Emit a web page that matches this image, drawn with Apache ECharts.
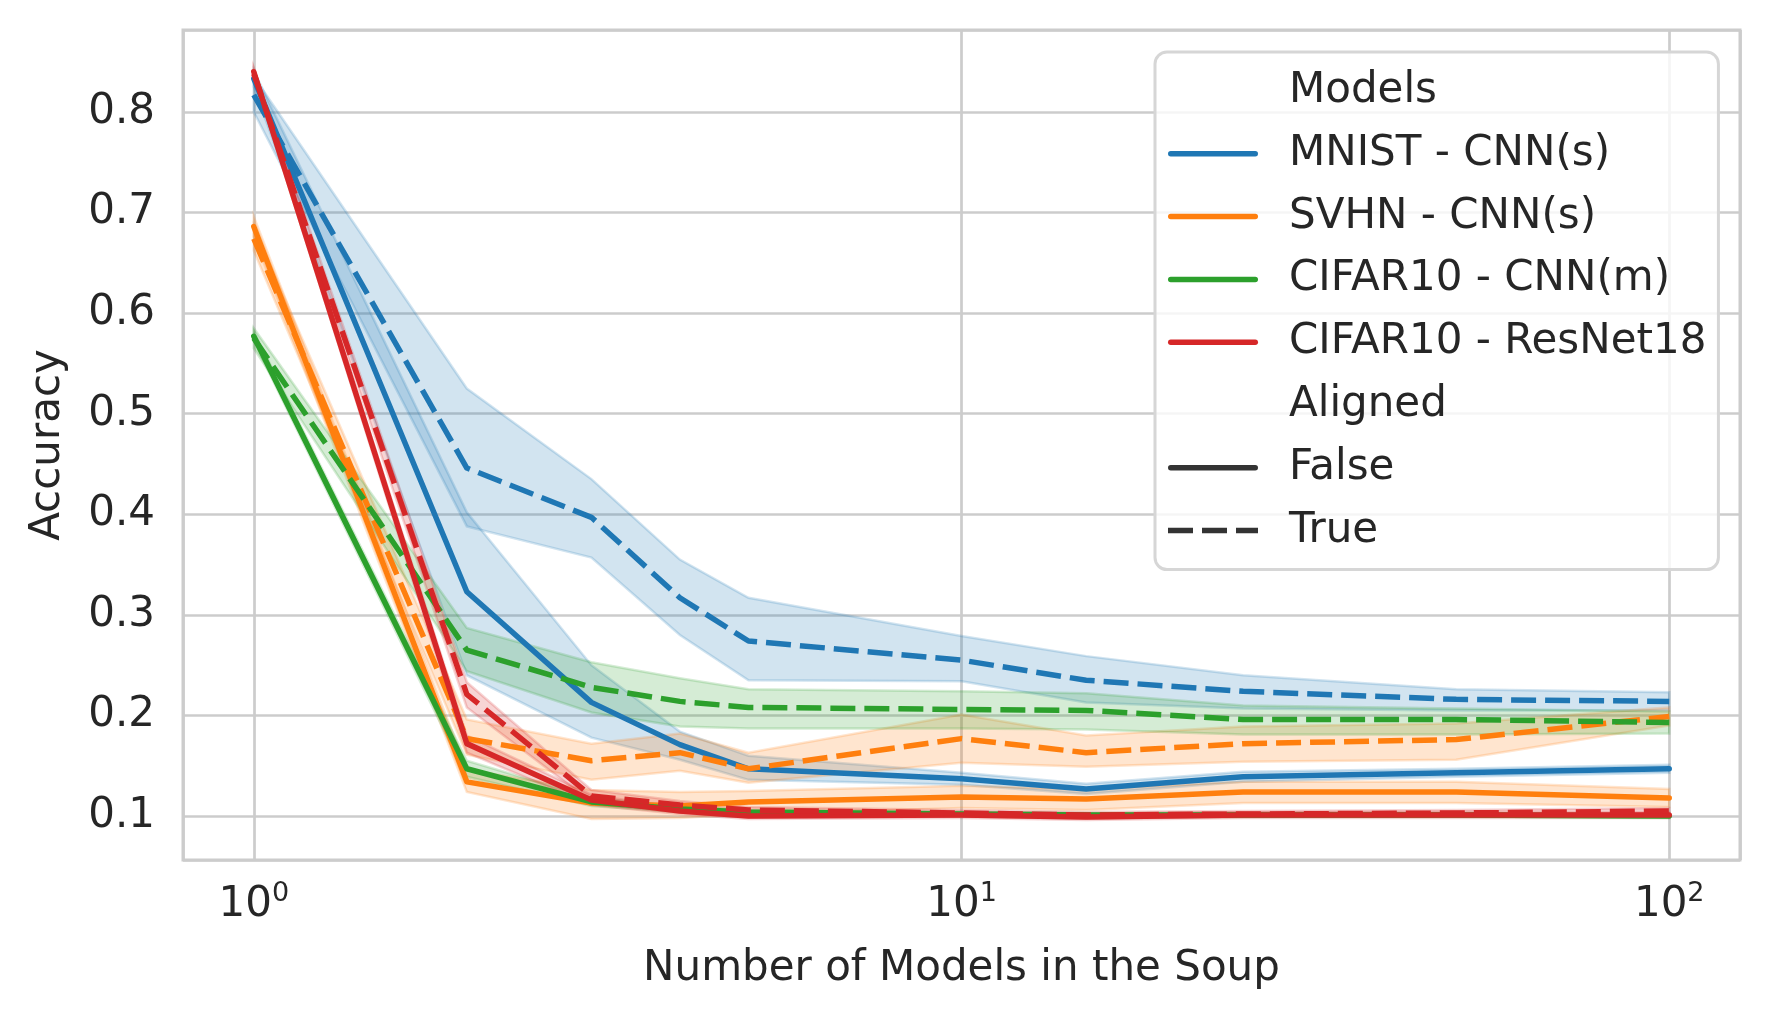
<!DOCTYPE html>
<html><head><meta charset="utf-8">
<script src="https://cdn.jsdelivr.net/npm/echarts@6/dist/echarts.min.js"></script>
<style>html,body{margin:0;padding:0;background:#fff}#c{width:1770px;height:1020px}</style>
</head><body><div id="c"></div>
<script>
const xs = [1, 2, 3, 4, 5, 10, 15, 25, 50, 100];
const models = ['MNIST - CNN(s)', 'SVHN - CNN(s)', 'CIFAR10 - CNN(m)', 'CIFAR10 - ResNet18'];
const colors = ['#1f77b4', '#ff7f0e', '#2ca02c', '#d62728'];

const mnistFalse   = [0.833, 0.323, 0.213, 0.171, 0.147, 0.137, 0.127, 0.139, 0.143, 0.147];
const mnistFalseLo = [0.825, 0.240, 0.178, 0.156, 0.136, 0.131, 0.122, 0.134, 0.139, 0.143];
const mnistFalseHi = [0.841, 0.402, 0.250, 0.184, 0.160, 0.143, 0.132, 0.144, 0.147, 0.151];
const mnistTrue    = [0.817, 0.446, 0.397, 0.317, 0.274, 0.255, 0.235, 0.224, 0.216, 0.214];
const mnistTrueLo  = [0.800, 0.388, 0.357, 0.280, 0.235, 0.234, 0.213, 0.207, 0.205, 0.205];
const mnistTrueHi  = [0.835, 0.525, 0.435, 0.355, 0.317, 0.279, 0.259, 0.240, 0.226, 0.223];

const svhnFalse    = [0.686, 0.134, 0.113, 0.110, 0.114, 0.119, 0.117, 0.124, 0.124, 0.118];
const svhnFalseLo  = [0.676, 0.124, 0.097, 0.098, 0.102, 0.108, 0.106, 0.113, 0.113, 0.109];
const svhnFalseHi  = [0.696, 0.146, 0.126, 0.124, 0.125, 0.130, 0.127, 0.134, 0.134, 0.127];
const svhnTrue     = [0.674, 0.177, 0.155, 0.163, 0.147, 0.177, 0.163, 0.172, 0.176, 0.199];
const svhnTrueLo   = [0.662, 0.161, 0.136, 0.145, 0.133, 0.153, 0.149, 0.154, 0.156, 0.190];
const svhnTrueHi   = [0.686, 0.196, 0.172, 0.182, 0.163, 0.201, 0.180, 0.189, 0.192, 0.208];

const cnnFalse     = [0.577, 0.147, 0.114, 0.107, 0.104, 0.102, 0.101, 0.101, 0.101, 0.100];
const cnnFalseLo   = [0.572, 0.139, 0.110, 0.104, 0.102, 0.100, 0.099, 0.099, 0.099, 0.098];
const cnnFalseHi   = [0.582, 0.155, 0.118, 0.110, 0.106, 0.104, 0.103, 0.103, 0.103, 0.102];
const cnnTrue      = [0.575, 0.265, 0.228, 0.214, 0.208, 0.206, 0.205, 0.196, 0.196, 0.193];
const cnnTrueLo    = [0.565, 0.244, 0.203, 0.189, 0.187, 0.187, 0.186, 0.181, 0.181, 0.182];
const cnnTrueHi    = [0.585, 0.287, 0.253, 0.237, 0.226, 0.224, 0.222, 0.210, 0.207, 0.204];

const resFalse     = [0.840, 0.172, 0.116, 0.105, 0.100, 0.101, 0.099, 0.101, 0.101, 0.101];
const resFalseLo   = [0.836, 0.163, 0.111, 0.102, 0.097, 0.098, 0.096, 0.098, 0.098, 0.098];
const resFalseHi   = [0.844, 0.180, 0.121, 0.108, 0.103, 0.104, 0.102, 0.104, 0.104, 0.104];
const resTrue      = [0.838, 0.221, 0.120, 0.111, 0.106, 0.103, 0.101, 0.102, 0.103, 0.105];
const resTrueLo    = [0.833, 0.208, 0.114, 0.107, 0.103, 0.100, 0.098, 0.099, 0.100, 0.101];
const resTrueHi    = [0.843, 0.233, 0.126, 0.115, 0.109, 0.106, 0.104, 0.105, 0.106, 0.108];

const groups = [
  [[mnistFalse, mnistFalseLo, mnistFalseHi], [mnistTrue, mnistTrueLo, mnistTrueHi]],
  [[svhnFalse, svhnFalseLo, svhnFalseHi], [svhnTrue, svhnTrueLo, svhnTrueHi]],
  [[cnnFalse, cnnFalseLo, cnnFalseHi], [cnnTrue, cnnTrueLo, cnnTrueHi]],
  [[resFalse, resFalseLo, resFalseHi], [resTrue, resTrueLo, resTrueHi]]
];

const FONT = 'DejaVu Sans';
const TXT = '#262626';
const LW = 5.5;
const DASH = [25, 9];

function rgba(hex, a) {
  const n = parseInt(hex.slice(1), 16);
  return 'rgba(' + (n >> 16 & 255) + ',' + (n >> 8 & 255) + ',' + (n & 255) + ',' + a + ')';
}

function lineSeries(name, vals, color, dashed) {
  return {
    type: 'line', name: name, symbol: 'none', showSymbol: false, z: 2,
    data: xs.map((x, i) => [x, vals[i]]),
    itemStyle: { color: color },
    lineStyle: { color: color, width: LW, type: dashed ? DASH : 'solid', cap: dashed ? 'butt' : 'round', join: 'round' },
    silent: true
  };
}

function bandSeries(name, lo, hi, color) {
  return {
    type: 'custom', name: name, silent: true, z: 2,
    data: xs.map((x, i) => [x, lo[i], hi[i]]),
    encode: { x: 0, y: [1, 2] },
    renderItem: function (params, api) {
      if (params.dataIndexInside !== 0) return null;
      const n = params.dataInsideLength;
      const up = [], dn = [];
      for (let i = 0; i < n; i++) {
        up.push(api.coord([api.value(0, i), api.value(2, i)]));
        dn.push(api.coord([api.value(0, i), api.value(1, i)]));
      }
      return {
        type: 'polygon',
        shape: { points: up.concat(dn.reverse()) },
        style: { fill: rgba(color, 0.2), stroke: rgba(color, 0.2), lineWidth: 2.5 }
      };
    }
  };
}

const series = [];
groups.forEach((g, m) => {
  g.forEach((d, a) => {
    const nm = models[m] + (a ? ' (aligned)' : '');
    series.push(lineSeries(nm, d[0], colors[m], a === 1));
    series.push(bandSeries(nm + ' band', d[1], d[2], colors[m]));
  });
});
// legend-only entries
series.push({ type: 'line', name: 'Models', data: [], symbol: 'none', lineStyle: { width: 0 } });
series.push({ type: 'line', name: 'Aligned', data: [], symbol: 'none', lineStyle: { width: 0 } });
series.push({ type: 'line', name: 'False', data: [], symbol: 'none', itemStyle: { color: '#333333' },
  lineStyle: { color: '#333333', width: LW, type: 'solid', cap: 'round' } });
series.push({ type: 'line', name: 'True', data: [], symbol: 'none', itemStyle: { color: '#333333' },
  lineStyle: { color: '#333333', width: LW, type: DASH, cap: 'butt' } });

const solidIcon = 'path://M2.75,0H87.25A2.75,2.75 0 0 1 87.25,5.5H2.75A2.75,2.75 0 0 1 2.75,0Z';
const dashIcon = 'path://M0,0H25V5.5H0Z M34,0H59V5.5H34Z M68,0H90V5.5H68Z';

const legendData = [{ name: 'Models', icon: 'none' }]
  .concat(models.map((m, i) => ({ name: m, icon: solidIcon, itemStyle: { color: colors[i] } })))
  .concat([{ name: 'Aligned', icon: 'none' },
    { name: 'False', icon: solidIcon, itemStyle: { color: '#333333' } },
    { name: 'True', icon: dashIcon, itemStyle: { color: '#333333' } }]);

const chart = echarts.init(document.getElementById('c'), null, { renderer: 'canvas' });
chart.setOption({
  animation: false,
  backgroundColor: '#ffffff',
  textStyle: { fontFamily: FONT },
  grid: { left: 183, top: 30, width: 1557, height: 830, show: true, borderColor: '#cccccc', borderWidth: 3,
    backgroundColor: 'transparent', containLabel: false },
  xAxis: {
    type: 'log', logBase: 10,
    min: Math.pow(10, -0.1), max: Math.pow(10, 2.1),
    name: 'Number of Models in the Soup', nameLocation: 'middle', nameGap: 88,
    nameTextStyle: { fontSize: 42, color: TXT, fontFamily: FONT },
    axisLine: { show: false }, axisTick: { show: false },
    minorTick: { show: false }, minorSplitLine: { show: false },
    splitLine: { show: true, lineStyle: { color: '#cccccc', width: 2.7 } },
    axisLabel: {
      margin: 24, color: TXT, fontFamily: FONT,
      formatter: function (v) {
        const e = Math.log10(v); const r = Math.round(e);
        if (Math.abs(e - r) > 1e-6) return '';
        return '{b|10}{s|' + r + '}';
      },
      rich: {
        b: { fontSize: 42, lineHeight: 42, color: TXT, fontFamily: FONT },
        s: { fontSize: 27, lineHeight: 20, padding: [0, 0, 22, 0], color: TXT, fontFamily: FONT }
      }
    }
  },
  yAxis: {
    type: 'value', min: 0.0563, max: 0.8815, splitNumber: 8,
    name: 'Accuracy', nameLocation: 'middle', nameGap: 114,
    nameTextStyle: { fontSize: 42, color: TXT, fontFamily: FONT },
    axisLine: { show: false }, axisTick: { show: false },
    splitLine: { show: true, lineStyle: { color: '#cccccc', width: 2.7 } },
    axisLabel: {
      margin: 28, fontSize: 42, color: TXT, fontFamily: FONT,
      formatter: function (v) {
        const r = Math.round(v * 10);
        return Math.abs(v * 10 - r) < 1e-6 ? (r / 10).toFixed(1) : '';
      }
    }
  },
  legend: {
    orient: 'vertical', left: 1155, top: 52,
    data: legendData,
    itemWidth: 90, itemHeight: 5.5, itemGap: 14.8,
    symbolKeepAspect: false,
    selectedMode: false,
    textStyle: { fontSize: 42, lineHeight: 48, color: TXT, fontFamily: FONT, padding: [0, 0, 0, 26] },
    backgroundColor: 'rgba(255,255,255,0.8)', borderColor: '#d6d6d6', borderWidth: 3, borderRadius: 12,
    padding: [15, 12, 15, 13]
  },
  series: series
});
</script>
</body></html>
